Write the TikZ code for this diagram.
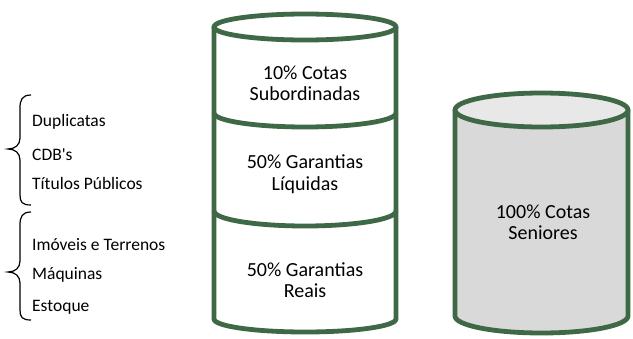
\documentclass[tikz,border=0pt]{standalone}
\usepackage{fontspec}
\setmainfont{Carlito}[Ligatures=TeXOff]
\definecolor{cylgreen}{RGB}{62,104,70}
\definecolor{bodygray}{RGB}{217,217,217}
\definecolor{topgray}{RGB}{232,232,232}
\begin{document}
\begin{tikzpicture}[x=1pt,y=-1pt,
  cyl/.style={draw=cylgreen,line width=4.8pt,line join=round},
  brace/.style={draw=black,line width=1.2pt},
  cyltext/.style={align=center,font=\fontsize{20}{21.5}\selectfont,inner sep=0pt},
  lbl/.style={anchor=west,font=\fontsize{17.5}{20}\selectfont,inner sep=0pt}]
\useasboundingbox (0,0) rectangle (633,338);
% left cylinder
\path[fill=white] (214,27) -- (214,319) arc[start angle=180,end angle=360,x radius=91,y radius=-13] -- (396,27) -- cycle;
\draw[cyl] (214,27) -- (214,319) arc[start angle=180,end angle=360,x radius=91,y radius=-13] -- (396,27);
\draw[cyl] (305,27) ellipse[x radius=91,y radius=13];
\draw[cyl] (214,113) arc[start angle=180,end angle=360,x radius=91,y radius=-14];
\draw[cyl] (214,211) arc[start angle=180,end angle=360,x radius=91,y radius=-15];
\node[cyltext] (t1) at (305,83) {10\% Cotas\\Subordinadas};
\node[cyltext] (t2) at (305,174) {50\% Garantias\\Líquidas};
\node[cyltext] (t3) at (305,280) {50\% Garantias\\Reais};
% right cylinder
\fill[bodygray] (455,110) -- (455,316) arc[start angle=180,end angle=360,x radius=86.5,y radius=-17] -- (628,110) -- cycle;
\draw[cyl] (455,110) -- (455,316) arc[start angle=180,end angle=360,x radius=86.5,y radius=-17] -- (628,110);
\draw[cyl,fill=topgray] (541.5,110) ellipse[x radius=86.5,y radius=17];
\node[cyltext] (t4) at (543,222) {100\% Cotas\\Seniores};
% braces
\draw[brace] (31,95) .. controls (22,95) and (20,100) .. (20,108) -- (20,138) .. controls (20,145) and (15,149) .. (8,149) .. controls (15,149) and (20,153) .. (20,160) -- (20,195) .. controls (20,202) and (22,205) .. (31,205);
\draw[brace] (31,212) .. controls (22,212) and (20,217) .. (20,225) -- (20,261) .. controls (20,268) and (15,272) .. (8,272) .. controls (15,272) and (20,276) .. (20,283) -- (20,310) .. controls (20,317) and (22,320) .. (31,320);
\node[lbl] (l1) at (32,122) {Duplicatas};
\node[lbl] (l2) at (32,155) {CDB's};
\node[lbl] (l3) at (32,183) {Títulos Públicos};
\node[lbl] (l4) at (32,245) {Imóveis e Terrenos};
\node[lbl] (l5) at (32,275) {Máquinas};
\node[lbl] (l6) at (32,307) {Estoque};
\end{tikzpicture}
\end{document}
